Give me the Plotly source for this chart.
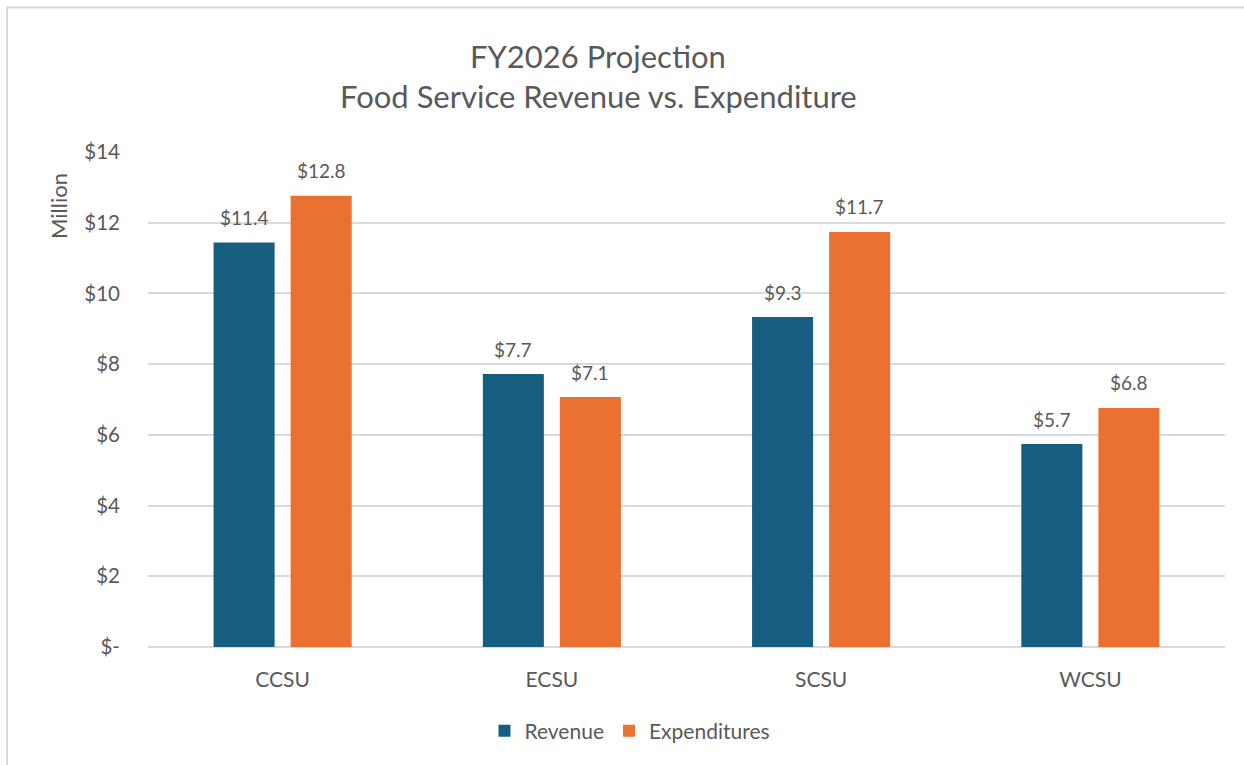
import plotly.graph_objects as go

categories = ["CCSU", "ECSU", "SCSU", "WCSU"]
revenue = [11.44, 7.72, 9.33, 5.74]
expenditures = [12.76, 7.07, 11.74, 6.76]
tick_vals = [0, 2, 4, 6, 8, 10, 12, 14]
tick_text = ["$-", "$2", "$4", "$6", "$8", "$10", "$12", "$14"]
title_lines = ["FY2026 Projection", "Food Service Revenue vs. Expenditure"]

FONT = "Lato, 'Open Sans', sans-serif"
TXT = "#595959"
BLUE = "#155E7F"
ORANGE = "#EB7133"

W, H = 1244, 765
L, R, T, B = 148, 19, 152, 118
pw, ph = W - L - R, H - T - B


def px(x):
    return (x - L) / pw


def py(y):
    return (H - B - y) / ph


fig = go.Figure()
fig.add_trace(go.Bar(name="Revenue", x=categories, y=revenue,
                     marker=dict(color=BLUE, line=dict(width=0))))
fig.add_trace(go.Bar(name="Expenditures", x=categories, y=expenditures,
                     marker=dict(color=ORANGE, line=dict(width=0))))

annotations = []
for series, shift in ((revenue, -38.5), (expenditures, 38.5)):
    for c, v in zip(categories, series):
        annotations.append(dict(
            x=c, y=v, xref="x", yref="y", text=f"${v:.1f}",
            xshift=shift, yshift=25, xanchor="center", yanchor="middle",
            showarrow=False, font=dict(family=FONT, size=19, color=TXT)))

annotations.append(dict(
    text="Million", textangle=-90, xref="paper", yref="paper",
    x=px(58), y=py(206), xanchor="center", yanchor="middle",
    showarrow=False, font=dict(family=FONT, size=22, color=TXT)))

for line, yc in zip(title_lines, (56, 96)):
    annotations.append(dict(
        text=line, xref="paper", yref="paper", x=px(598), y=py(yc),
        xanchor="center", yanchor="middle", showarrow=False,
        font=dict(family=FONT, size=31, color=TXT)))

fig.update_layout(
    width=W, height=H,
    margin=dict(l=L, r=R, t=T, b=B, autoexpand=False),
    paper_bgcolor="white", plot_bgcolor="white",
    barmode="group", bargap=0.4275, bargroupgap=0.208,
    font=dict(family=FONT, color=TXT, size=19),
    showlegend=True,
    legend=dict(
        orientation="h", x=px(630), xanchor="center", y=py(731), yanchor="middle",
        font=dict(family=FONT, size=21, color=TXT),
        itemwidth=30, traceorder="normal",
    ),
    xaxis=dict(
        showgrid=False, showline=False, ticks="",
        tickfont=dict(family=FONT, size=21, color=TXT),
        ticklabelstandoff=18,
    ),
    yaxis=dict(
        range=[0, 14], tickvals=tick_vals, ticktext=tick_text,
        showgrid=True, gridcolor="#D9D9D9", gridwidth=2,
        zeroline=True, zerolinecolor="#D9D9D9", zerolinewidth=2,
        showline=False, ticks="",
        tickfont=dict(family=FONT, size=20.5, color=TXT),
        ticklabelstandoff=27,
    ),
    annotations=annotations,
    shapes=[
        dict(type="line", xref="paper", yref="paper",
             x0=px(6), x1=px(W), y0=py(7.5), y1=py(7.5),
             line=dict(color="#D9D9D9", width=2)),
        dict(type="line", xref="paper", yref="paper",
             x0=px(7), x1=px(7), y0=py(6.5), y1=py(H),
             line=dict(color="#D9D9D9", width=2)),
    ],
)

fig.write_html("out.html", config={"displayModeBar": False},
               post_script="document.body.style.margin='0';document.body.style.padding='0';")
